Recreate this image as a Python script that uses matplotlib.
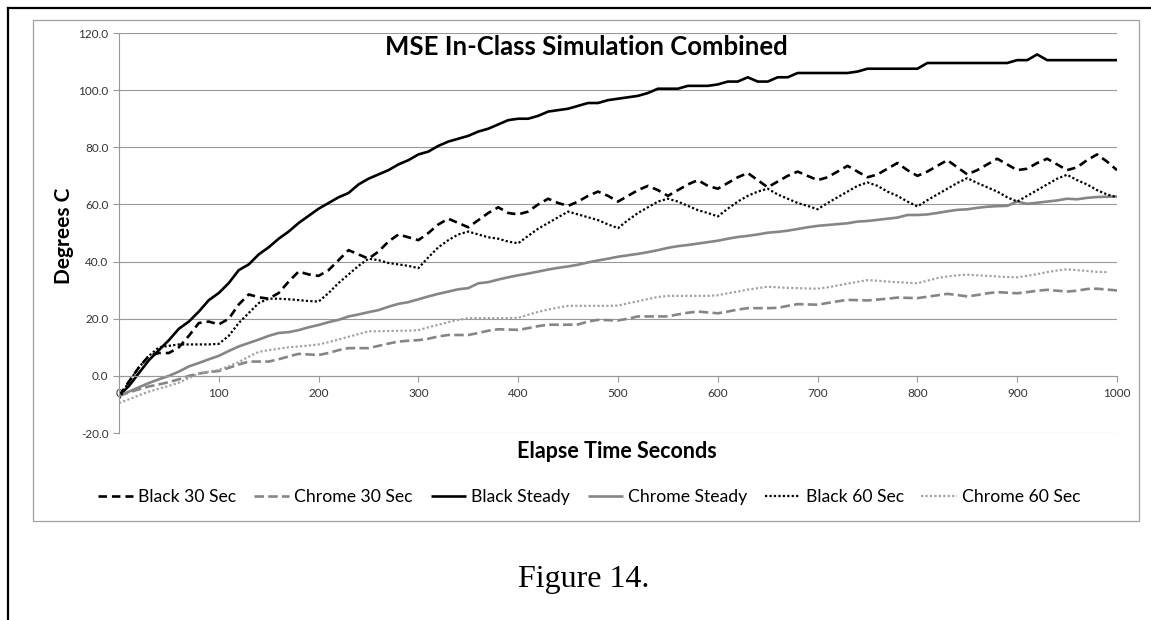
import numpy as np
import matplotlib.pyplot as plt
from matplotlib.lines import Line2D

# elapsed time, sampled every 10 s
elapse_s = list(range(0, 1001, 10))

black_30 = [
    -7, -2, 3, 7, 8, 8, 10, 14, 18.5, 19,
    18, 20, 25, 28.5, 27.5, 27, 29, 33, 36.5, 35.5,
    35, 37, 40.5, 44, 42.5, 41, 43.5, 47, 49.5, 48.5,
    47.5, 50, 53, 55, 53.5, 52, 54.5, 57, 59, 57,
    56.5, 57.5, 60, 62, 60.5, 59.5, 61, 63, 64.5, 63,
    61, 63, 65, 66.5, 65, 63, 65, 67, 68.5, 66.5,
    65.5, 67.5, 69.5, 71, 68.5, 66, 68, 70, 71.5, 70,
    68.5, 69.5, 71.5, 73.5, 71.5, 69.5, 70.5, 72.5, 74.5, 72,
    70, 71.5, 73.5, 75.5, 73, 70.5, 72, 74, 76, 74,
    72, 72.5, 74.5, 76, 74, 72, 73, 75.5, 77.5, 75,
    72]

chrome_30 = [
    -7, -5.8, -4.7, -3.7, -3, -2.2, -1.2, 0, 0.8, 1.3,
    1.7, 2.8, 4, 5, 5, 5, 5.8, 6.8, 7.7, 7.5,
    7.3, 8, 9, 9.7, 9.7, 9.7, 10.5, 11.3, 12, 12.3,
    12.5, 13, 13.8, 14.3, 14.3, 14.3, 15, 15.8, 16.3, 16.2,
    16.1, 16.7, 17.4, 17.9, 17.9, 17.9, 18, 19, 19.6, 19.5,
    19.4, 20, 20.8, 20.8, 20.8, 20.8, 21.5, 22.1, 22.5, 22.2,
    21.9, 22.5, 23.2, 23.7, 23.7, 23.7, 23.8, 24.5, 25.1, 25,
    24.9, 25.5, 26.1, 26.6, 26.5, 26.4, 26.7, 27, 27.4, 27.3,
    27.2, 27.7, 28.2, 28.7, 28.3, 27.8, 28.3, 28.9, 29.3, 29.1,
    28.9, 29.3, 29.8, 30.1, 29.8, 29.5, 29.8, 30.4, 30.5, 30.2,
    29.9]

black_steady = [
    -7, -3.5, 1, 5.5, 9, 12.5, 16.5, 19, 22.5, 26.5,
    29, 32.5, 37, 39, 42.5, 45, 48, 50.5, 53.5, 56,
    58.5, 60.5, 62.5, 64, 67, 69, 70.5, 72, 74, 75.5,
    77.5, 78.5, 80.5, 82, 83, 84, 85.5, 86.5, 88, 89.5,
    90, 90, 91, 92.5, 93, 93.5, 94.5, 95.5, 95.5, 96.5,
    97, 97.5, 98, 99, 100.5, 100.5, 100.5, 101.5, 101.5, 101.5,
    102, 103, 103, 104.5, 103, 103, 104.5, 104.5, 106, 106,
    106, 106, 106, 106, 106.5, 107.5, 107.5, 107.5, 107.5, 107.5,
    107.5, 109.5, 109.5, 109.5, 109.5, 109.5, 109.5, 109.5, 109.5, 109.5,
    110.5, 110.5, 112.5, 110.5, 110.5, 110.5, 110.5, 110.5, 110.5, 110.5,
    110.5]

chrome_steady = [
    -7, -5.5, -4, -2.5, -1.2, 0, 1.5, 3.3, 4.5, 5.8,
    7, 8.7, 10.3, 11.5, 12.7, 14, 15, 15.3, 16, 17,
    17.8, 18.8, 19.6, 20.8, 21.5, 22.3, 23, 24.2, 25.2, 25.8,
    26.8, 27.8, 28.7, 29.5, 30.3, 30.7, 32.4, 32.8, 33.7, 34.5,
    35.2, 35.8, 36.5, 37.2, 37.8, 38.3, 38.9, 39.7, 40.4, 41,
    41.7, 42.2, 42.7, 43.3, 44, 44.8, 45.4, 45.8, 46.3, 46.8,
    47.3, 48, 48.6, 49, 49.5, 50.1, 50.4, 50.8, 51.4, 52,
    52.5, 52.8, 53.1, 53.4, 54, 54.2, 54.6, 55, 55.4, 56.3,
    56.3, 56.5, 57, 57.6, 58.1, 58.3, 58.8, 59.2, 59.4, 59.5,
    61, 60.2, 60.6, 61, 61.4, 62, 61.8, 62.3, 62.6, 62.7,
    62.8]

black_60 = [
    -8, -2, 3, 7, 10, 10.5, 11, 11, 11, 11,
    11.2, 14, 18.5, 22, 25.5, 27, 27, 26.8, 26.5, 26.2,
    26, 29, 32.5, 35.5, 38.5, 41, 40.5, 39.5, 39, 38.5,
    37.7, 41.5, 45, 47.5, 49.5, 50.5, 49.5, 48.5, 48, 47,
    46.4, 49, 51.5, 53.5, 55.5, 57.5, 56.5, 55.5, 54.5, 53,
    51.7, 54.5, 57, 59, 61, 62, 61, 59.5, 58, 57,
    55.8, 58.5, 61, 63, 64.5, 65.5, 63.5, 62, 60.5, 59.5,
    58.3, 60.5, 62.5, 64.5, 66.5, 67.7, 66.5, 64.5, 63, 61,
    59.3, 61.5, 63.5, 65.5, 67.5, 69.2, 67.5, 66, 64.5, 62.5,
    61, 63, 65, 67, 69, 70.4, 68.5, 67, 65, 63.5,
    62.5]

chrome_60 = [
    -9.5, -8.2, -6.8, -5.5, -4.5, -3.5, -2.4, -0.8, 0.9, 1.5,
    2.1, 3.4, 4.8, 6.7, 8.4, 9, 9.5, 10, 10.3, 10.6,
    11, 11.8, 12.7, 13.7, 14.6, 15.6, 15.6, 15.7, 15.8, 15.8,
    16, 17, 17.9, 18.8, 19.6, 20.2, 20.2, 20.2, 20.2, 20.2,
    20.3, 21.4, 22.4, 23.2, 23.9, 24.5, 24.5, 24.5, 24.5, 24.5,
    24.6, 25.4, 26.1, 26.9, 27.6, 28, 28, 28, 28, 28,
    28.2, 28.9, 29.5, 30.2, 30.7, 31.2, 31, 30.8, 30.7, 30.6,
    30.5, 31, 31.6, 32.3, 32.9, 33.5, 33.3, 33, 32.8, 32.6,
    32.4, 33.3, 34.2, 34.8, 35.2, 35.4, 35.2, 35, 34.8, 34.6,
    34.5, 35, 35.6, 36.3, 36.9, 37.3, 37, 36.7, 36.4, 36.3,
    np.nan]

series_names = ['Black 30 Sec', 'Chrome 30 Sec', 'Black Steady',
                'Chrome Steady', 'Black 60 Sec', 'Chrome 60 Sec']
y_ticks = [-20, 0, 20, 40, 60, 80, 100, 120]
x_ticks = list(range(0, 1001, 100))

plt.rcParams['font.family'] = ['Lato', 'DejaVu Sans']

fig = plt.figure(figsize=(11.51, 6.20), dpi=100)
ax = fig.add_axes([119 / 1151, 1 - 433 / 620, 998 / 1151, 400 / 620])

styles = [
    dict(color='black', lw=1.9, dashes=(3.2, 1.9)),
    dict(color='#868686', lw=1.9, dashes=(3.6, 1.6)),
    dict(color='black', lw=1.9),
    dict(color='#868686', lw=1.9),
    dict(color='black', lw=1.6, dashes=(1, 1.0)),
    dict(color='#a3a3a3', lw=1.6, dashes=(1, 1.0)),
]
data = [black_30, chrome_30, black_steady, chrome_steady, black_60, chrome_60]
for vals, st, name in zip(data, styles, series_names):
    ax.plot(elapse_s, vals, label=name, solid_capstyle='butt', **st)

ax.set_xlim(0, 1000)
ax.set_ylim(-20, 120)
ax.set_yticks(y_ticks)
ax.set_yticklabels([f'{v:.1f}' for v in y_ticks])
ax.set_xticks(x_ticks)
ax.grid(axis='y', color='#999999', lw=0.8)
ax.set_axisbelow(True)
for s in ['top', 'right']:
    ax.spines[s].set_visible(False)
ax.spines['bottom'].set_position(('data', 0))
ax.spines['bottom'].set_color('#999999')
ax.spines['left'].set_color('#999999')
ax.tick_params(axis='both', colors='#999999', labelcolor='#333333',
               labelsize=8.5, length=4, width=0.8)
ax.tick_params(axis='x', pad=5)

fig.text(586 / 1151, 1 - 47 / 620, 'MSE In-Class Simulation Combined',
         ha='center', va='center', fontsize=18.5, fontweight='bold')
fig.text(64 / 1151, 1 - 236 / 620, 'Degrees C', rotation=90,
         ha='center', va='center', fontsize=15, fontweight='bold')
fig.text(617 / 1151, 1 - 451 / 620, 'Elapse Time Seconds',
         ha='center', va='center', fontsize=15.5, fontweight='bold')

fig.legend(loc='center', bbox_to_anchor=(589 / 1151, 1 - 497 / 620), ncol=6,
           frameon=False, fontsize=12.7, handlelength=2.0, handletextpad=0.3,
           columnspacing=1.0)

fig.text(584 / 1151, 1 - 580 / 620, 'Figure 14.', family='Liberation Serif',
         ha='center', va='center', fontsize=23)

# chart area frame and page border
fig.add_artist(plt.Rectangle((33 / 1151, 1 - 521 / 620), 1106 / 1151, 501 / 620,
                             transform=fig.transFigure, fill=False,
                             edgecolor='#a0a0a0', lw=0.9))
fig.add_artist(Line2D([8 / 1151, 1], [1 - 8 / 620] * 2, color='black', lw=1.6,
                      transform=fig.transFigure))
fig.add_artist(Line2D([8 / 1151] * 2, [0, 1 - 8 / 620], color='black', lw=1.6,
                      transform=fig.transFigure))

fig.savefig('out.png', dpi=100)
